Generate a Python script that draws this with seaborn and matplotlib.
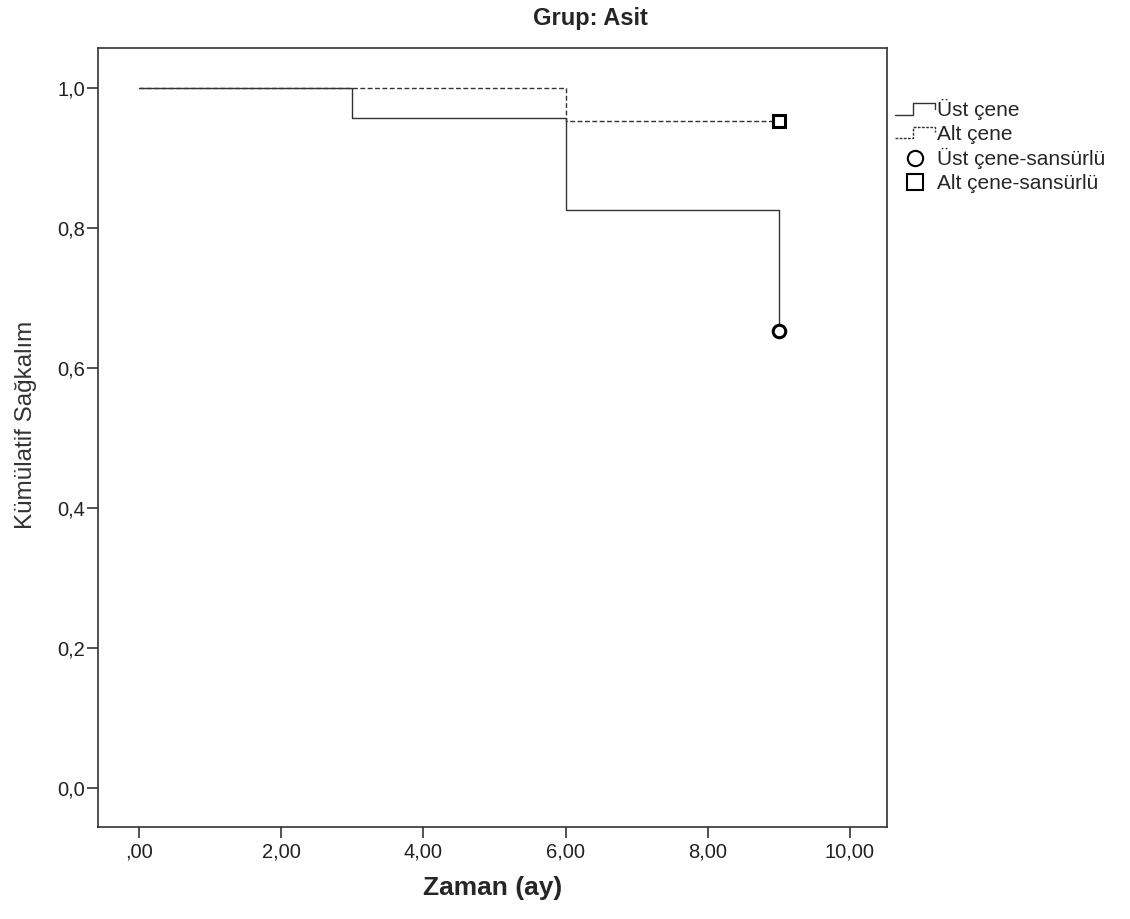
import pandas as pd
import seaborn as sns
import matplotlib.pyplot as plt
from matplotlib.lines import Line2D
from matplotlib.legend_handler import HandlerBase

# Kaplan-Meier steps
ust_time = [0, 3, 6, 9]
ust_surv = [1.0, 0.957, 0.826, 0.652]
alt_time = [0, 6, 9]
alt_surv = [1.0, 0.952, 0.952]

# censored points
ust_cens_time = [9]
ust_cens_surv = [0.652]
alt_cens_time = [9]
alt_cens_surv = [0.952]

xticks = [0, 2, 4, 6, 8, 10]
xtick_labels = [",00", "2,00", "4,00", "6,00", "8,00", "10,00"]
yticks = [0.0, 0.2, 0.4, 0.6, 0.8, 1.0]
ytick_labels = ["0,0", "0,2", "0,4", "0,6", "0,8", "1,0"]

LINE = "#333333"


class StepHandler(HandlerBase):
    def __init__(self, ls):
        super().__init__()
        self.ls = ls

    def create_artists(self, legend, orig_handle, xdescent, ydescent,
                       width, height, fontsize, trans):
        x0, w, h = -xdescent, width, height
        xs = [x0, x0 + 0.45 * w, x0 + 0.45 * w, x0 + w, x0 + w]
        ys = [0.1 * h, 0.1 * h, 0.9 * h, 0.9 * h, 0.5 * h]
        ln = Line2D(xs, ys, color=LINE, lw=1.0, ls=self.ls, transform=trans)
        return [ln]


sns.set_style("white")
plt.rcParams["font.family"] = ["Liberation Sans", "DejaVu Sans"]

fig = plt.figure(figsize=(11.3, 9.19), dpi=100)
ax = fig.add_axes([0.0867, 0.1001, 0.6982, 0.8477])

ust = pd.DataFrame({"t": ust_time, "s": ust_surv})
alt = pd.DataFrame({"t": alt_time, "s": alt_surv})

sns.lineplot(data=ust, x="t", y="s", ax=ax, drawstyle="steps-post",
             color=LINE, lw=1.0, estimator=None)
sns.lineplot(data=alt, x="t", y="s", ax=ax, drawstyle="steps-post",
             color=LINE, lw=1.0, linestyle=(0, (3.5, 1.8)), estimator=None)

ax.plot(ust_cens_time, ust_cens_surv, "o", ms=9, mfc="white", mec="black", mew=2.2)
ax.plot(alt_cens_time, alt_cens_surv, "s", ms=9, mfc="white", mec="black", mew=2.2)

ax.set_xlim(-0.577, 10.52)
ax.set_ylim(-0.056, 1.057)
ax.set_xticks(xticks)
ax.set_xticklabels(xtick_labels)
ax.set_yticks(yticks)
ax.set_yticklabels(ytick_labels)
ax.tick_params(axis="both", length=8, width=1.2, color="#333333",
               labelsize=14.5, labelcolor="#222222", direction="out",
               bottom=True, left=True)
ax.tick_params(axis="y", pad=1.5)
for sp in ax.spines.values():
    sp.set_color("#333333")
    sp.set_linewidth(1.2)

ax.set_xlabel("Zaman (ay)", fontsize=19, fontweight="bold", labelpad=10)
ax.set_ylabel("Kümülatif Sağkalım", fontsize=17.5, color="#333333")
ax.yaxis.set_label_coords(-0.077, 0.516)
fig.text(590 / 1130, 1 - 25 / 919, "Grup: Asit", fontsize=17, fontweight="bold",
         ha="center", va="baseline")

h_ust = Line2D([], [])
h_alt = Line2D([], [])
h_c1 = Line2D([], [], marker="o", ls="none", ms=11, mfc="white", mec="black", mew=1.5)
h_c2 = Line2D([], [], marker="s", ls="none", ms=11, mfc="white", mec="black", mew=1.5)
fig.legend([h_ust, h_alt, h_c1, h_c2],
           ["Üst çene", "Alt çene", "Üst çene-sansürlü", "Alt çene-sansürlü"],
           handler_map={h_ust: StepHandler("-"), h_alt: StepHandler((0, (2, 1)))},
           loc="upper left", bbox_to_anchor=(895 / 1130, 1 - 99 / 919),
           frameon=False, fontsize=15, handlelength=1.9, handletextpad=0.1,
           labelspacing=0.22, borderpad=0, borderaxespad=0)

fig.savefig("out.png", dpi=100)
